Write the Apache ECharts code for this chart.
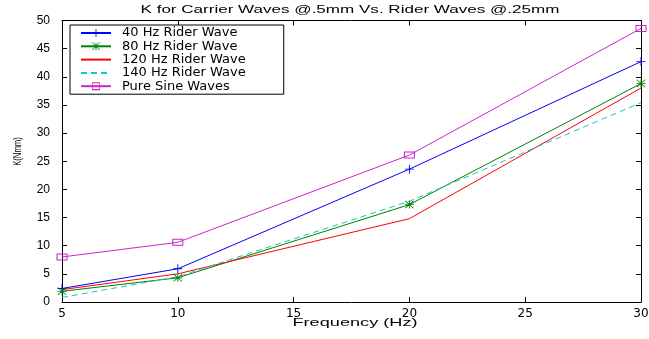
<!DOCTYPE html>
<html>
<head>
<meta charset="utf-8">
<script src="https://cdn.jsdelivr.net/npm/echarts@6/dist/echarts.min.js"></script>
<style>
  html, body { margin: 0; padding: 0; background: #fff; }
  #chart { width: 649px; height: 339px; }
</style>
</head>
<body>
<div id="chart"></div>
<script>
// Stiffness K (N·mm) against carrier frequency for several rider waves
const frequencies = [5, 10, 20, 30];
const rider40 = [2.4, 5.9, 23.6, 42.7];
const rider80 = [1.9, 4.3, 17.3, 38.8];
const rider120 = [2.2, 5.0, 14.8, 38.0];
const rider140 = [0.8, 4.5, 17.9, 35.4];
const pureSine = [8.0, 10.6, 26.1, 48.6];

const xTicks = [5, 10, 15, 20, 25, 30];
const yTicks = [0, 5, 10, 15, 20, 25, 30, 35, 40, 45, 50];

const titleText = 'K for Carrier Waves @.5mm Vs. Rider Waves @.25mm';
const xName = 'Frequency (Hz)';
const yName = 'K(Nmm)';

const seriesNames = ['40 Hz Rider Wave', '80 Hz Rider Wave', '120 Hz Rider Wave',
                     '140 Hz Rider Wave', 'Pure Sine Waves'];

// marker outlines built from thin filled bars so they take the series colour
const plusPath = 'path://M4.5,0H5.5V4.5H10V5.5H5.5V10H4.5V5.5H0V4.5H4.5Z';
const starPath = 'path://M0,4.5H10V5.5H0Z M4.5,0H5.5V10H4.5Z ' +
  'M0.7,0L10,9.3L9.3,10L0,0.7Z M9.3,0L10,0.7L0.7,10L0,9.3Z';
// open square: outer ring minus inner ring, so the line shows through
const squarePath = 'path://M0,0H11V7H0Z M1,1V6H10V1Z';

const pairs = ys => frequencies.map((f, i) => [f, ys[i]]);

const FONT = '"Liberation Sans", Arial, sans-serif';

const chart = echarts.init(document.getElementById('chart'), null, { renderer: 'canvas' });

function lineSeries(name, ys, color, symbol, size, dashed) {
  return {
    name: name,
    type: 'line',
    data: pairs(ys),
    symbol: symbol,
    symbolSize: size,
    showSymbol: symbol !== 'none',
    clip: false,
    animation: false,
    itemStyle: { color: color },
    lineStyle: { color: color, width: 1, type: dashed ? [6, 4] : 'solid' },
    emphasis: { disabled: true }
  };
}

const axisLine = { show: true, onZero: false, lineStyle: { color: '#000', width: 1 } };
const axisTick = { show: true, inside: true, length: 5, lineStyle: { color: '#000' } };

chart.setOption({
  backgroundColor: '#fff',
  animation: false,
  graphic: [
    {
      type: 'text', x: 350, y: 10, scaleX: 1.55,
      style: { text: titleText, align: 'center', verticalAlign: 'middle',
               fontSize: 11, fontFamily: FONT, fill: '#000' }
    },
    {
      type: 'text', x: 355, y: 323, scaleX: 1.65,
      style: { text: xName, align: 'center', verticalAlign: 'middle',
               fontSize: 11, fontFamily: FONT, fill: '#000' }
    },
    {
      type: 'text', x: 18, y: 151.5, rotation: Math.PI / 2, scaleX: 0.7,
      style: { text: yName, align: 'center', verticalAlign: 'middle',
               fontSize: 11, fontFamily: FONT, fill: '#000' }
    }
  ],
  grid: { show: false, left: 62, right: 8, top: 20.5, bottom: 37,
          containLabel: false, outerBoundsMode: 'none' },
  legend: {
    orient: 'vertical',
    left: 70,
    top: 25,
    padding: [1.5, 38, 1.5, 10],
    itemWidth: 30,
    itemHeight: 10,
    itemGap: 0.3,
    backgroundColor: '#fff',
    borderColor: '#000',
    borderWidth: 1,
    borderRadius: 0,
    selectedMode: false,
    textStyle: { fontFamily: '"DejaVu Sans", sans-serif', fontSize: 13, color: '#000',
                 padding: [0, 0, 0, 6], lineHeight: 13 },
    data: seriesNames.map((n, i) =>
      (i === 2 || i === 3) ? { name: n, itemStyle: { opacity: 0 } } : { name: n })
  },
  xAxis: [
    {
      type: 'value', min: xTicks[0], max: xTicks[xTicks.length - 1], interval: 5,
      axisLine: axisLine, axisTick: axisTick,
      axisLabel: { show: true, margin: 6, fontFamily: '"DejaVu Sans", sans-serif',
                   fontSize: 12, color: '#000' },
      splitLine: { show: false }
    },
    {
      type: 'value', position: 'top', min: xTicks[0], max: xTicks[xTicks.length - 1], interval: 5,
      axisLine: axisLine, axisTick: axisTick,
      axisLabel: { show: false },
      splitLine: { show: false }
    }
  ],
  yAxis: [
    {
      type: 'value', min: yTicks[0], max: yTicks[yTicks.length - 1], interval: 5,
      axisLine: axisLine, axisTick: axisTick,
      axisLabel: { show: true, margin: 12, fontFamily: FONT, fontSize: 12, color: '#000' },
      splitLine: { show: false }
    },
    {
      type: 'value', position: 'right', min: yTicks[0], max: yTicks[yTicks.length - 1], interval: 5,
      axisLine: axisLine, axisTick: axisTick,
      axisLabel: { show: false },
      splitLine: { show: false }
    }
  ],
  series: [
    lineSeries(seriesNames[0], rider40, '#0000ff', plusPath, [9, 9], false),
    lineSeries(seriesNames[1], rider80, '#008000', starPath, [9, 8], false),
    lineSeries(seriesNames[2], rider120, '#ff0000', 'none', 0, false),
    lineSeries(seriesNames[3], rider140, '#1cc3c3', 'none', 0, true),
    lineSeries(seriesNames[4], pureSine, '#cc22cc', squarePath, [11, 7], false)
  ]
});
</script>
</body>
</html>
